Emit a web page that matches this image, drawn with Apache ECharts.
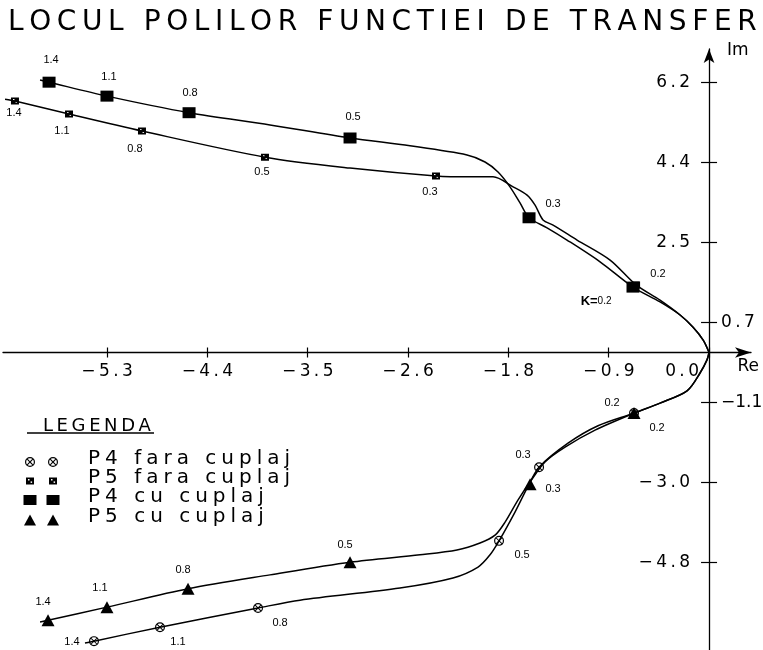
<!DOCTYPE html>
<html>
<head>
<meta charset="utf-8">
<title>Locul polilor functiei de transfer</title>
<script src="https://cdn.jsdelivr.net/npm/echarts@6/dist/echarts.min.js"></script>
<style>
html,body{margin:0;padding:0;background:#fff}
#chart{width:763px;height:650px}
</style>
</head>
<body>
<div id="chart"></div>
<script>
// valorile lui K scrise langa puncte
var kLabels = ['1.4', '1.1', '0.8', '0.5', '0.3', '0.2'];

// P4 cu cuplaj (patrate pline) - punctele marcate
var p4CuRe = [-5.789, -5.281, -4.561, -3.149, -1.579, -0.667];
var p4CuIm = [6.20, 5.88, 5.50, 4.92, 3.09, 1.50];
// traseul curbei
var p4CuPathRe = [-5.868, -5.789, -5.281, -4.561, -3.851, -3.149, -2.623, -2.123, -1.965, -1.851, -1.746, -1.658, -1.579, -1.421, -1.246, -0.956, -0.667, -0.430, -0.254, -0.140, -0.050, 0];
var p4CuPathIm = [6.25, 6.20, 5.88, 5.50, 5.22, 4.92, 4.74, 4.53, 4.37, 4.14, 3.80, 3.43, 3.09, 2.86, 2.58, 2.08, 1.50, 1.16, 0.86, 0.58, 0.28, 0];

// P5 fara cuplaj (patrate mici)
var p5FaraRe = [-6.088, -5.614, -4.974, -3.895, -2.395, -0.640];
var p5FaraIm = [5.77, 5.47, 5.08, 4.48, 4.05, 1.55];
var p5FaraPathRe = [-6.175, -6.088, -5.614, -4.974, -3.895, -3.149, -2.395, -2.096, -1.895, -1.719, -1.596, -1.526, -1.456, -1.368, -1.158, -0.868, -0.640, -0.430, -0.254, -0.140, -0.050, 0];
var p5FaraPathIm = [5.81, 5.77, 5.47, 5.08, 4.48, 4.23, 4.05, 4.03, 4.03, 3.80, 3.61, 3.38, 3.04, 2.92, 2.58, 2.12, 1.55, 1.20, 0.86, 0.58, 0.28, 0];

// P5 cu cuplaj (triunghiuri)
var p5CuRe = [-5.798, -5.281, -4.570, -3.149, -1.570, -0.658];
var p5CuIm = [-6.14, -5.84, -5.42, -4.81, -3.02, -1.39];
var p5CuPathRe = [-5.868, -5.798, -5.281, -4.570, -3.851, -3.149, -2.535, -2.211, -2.009, -1.877, -1.789, -1.675, -1.570, -1.439, -1.263, -1.000, -0.658, -0.430, -0.193, -0.079, -0.018, 0];
var p5CuPathIm = [-6.18, -6.14, -5.84, -5.42, -5.10, -4.81, -4.64, -4.53, -4.37, -4.19, -3.89, -3.38, -2.97, -2.51, -2.17, -1.78, -1.39, -1.16, -0.88, -0.47, -0.17, 0];

// P4 fara cuplaj (cerc cu x)
var p4FaraRe = [-5.395, -4.816, -3.956, -1.842, -1.491, -0.658];
var p4FaraIm = [-6.62, -6.30, -5.86, -4.32, -2.63, -1.39];
var p4FaraPathRe = [-5.474, -5.395, -4.816, -3.956, -3.588, -2.711, -2.246, -2.026, -1.921, -1.842, -1.702, -1.596, -1.491, -1.237, -0.974, -0.658, -0.430, -0.193, -0.079, -0.018, 0];
var p4FaraPathIm = [-6.66, -6.62, -6.30, -5.86, -5.68, -5.40, -5.17, -4.92, -4.64, -4.32, -3.66, -3.11, -2.63, -2.08, -1.68, -1.39, -1.16, -0.88, -0.47, -0.17, 0];

// gradatiile axelor
var xTicks = [-5.28, -4.4, -3.52, -2.64, -1.76, -0.88, 0];
var xTickLabels = ['\u22125.3', '\u22124.4', '\u22123.5', '\u22122.6', '\u22121.8', '\u22120.9', '0.0'];
var yTicks = [6.195, 4.36, 2.525, 0.69, -1.145, -2.98, -4.815];
var yTickLabels = ['6.2', '4.4', '2.5', '0.7', '\u22121.1', '\u22123.0', '\u22124.8'];

var legendNames = ['P4 fara cuplaj', 'P5 fara cuplaj', 'P4 cu cuplaj', 'P5 cu cuplaj'];

var FONT = "'DejaVu Sans', sans-serif";
var SMALL = "'Liberation Sans', Arial, sans-serif";

// simbolurile
var D_CIRCLEX = 'M0,-5A5,5 0 1,1 0,5A5,5 0 1,1 0,-5Z M0,-3.8A3.8,3.8 0 1,0 0,3.8A3.8,3.8 0 1,0 0,-3.8Z M-3.2,-2.5L-2.5,-3.2L3.2,2.5L2.5,3.2Z M2.5,-3.2L3.2,-2.5L-2.5,3.2L-3.2,2.5Z';
var D_DOTSQ = 'M0,0H8V7H0Z M2,1.6V3.1H3.5V1.6Z M4.6,3.9V5.4H6.1V3.9Z';
var D_SQ = 'M0,0H13V11H0Z';
var D_TRI = 'M6.5,0L13,12L0,12Z';

function spaced(s, sep) {
  return s.split('').join(sep || '\u2009');
}
function zip(a, b) {
  return a.map(function (v, i) { return [v, b[i]]; });
}
function lookup(values, labels) {
  return function (v) {
    var best = 0;
    for (var i = 1; i < values.length; i++) {
      if (Math.abs(values[i] - v) < Math.abs(values[best] - v)) best = i;
    }
    return labels[best];
  };
}
var xLab = lookup(xTicks, xTickLabels);
var yLab = lookup(yTicks, yTickLabels);

function curve(name, re, im) {
  return {
    type: 'line', name: name, data: zip(re, im),
    smooth: 0.3, showSymbol: false, silent: true, z: 2,
    lineStyle: { color: '#000', width: 1.5 }
  };
}

function markers(name, re, im, symbol, size, offsets, fmt) {
  return {
    type: 'scatter', name: name, z: 4, silent: true,
    symbol: 'path://' + symbol, symbolSize: size,
    itemStyle: { color: '#000', opacity: 1 },
    data: zip(re, im).map(function (p, i) {
      return { value: p, label: { offset: offsets[i] } };
    }),
    label: {
      show: true, position: 'inside', color: '#000',
      fontFamily: SMALL, fontSize: 11,
      formatter: fmt || function (p) { return kLabels[p.dataIndex]; },
      rich: {
        k: { fontFamily: SMALL, fontSize: 13, fontWeight: 'bold', color: '#000' },
        v: { fontFamily: SMALL, fontSize: 10, color: '#000' }
      }
    }
  };
}

// cadrul graficului (pixeli) si domeniile axelor
var G = { left: 3, right: 12, top: 49, bottom: 0, w: 763, h: 650 };
var xMin = -6.193, xMax = 0.368, yMin = -6.823, yMax = 6.961;
var gw = G.w - G.left - G.right, gh = G.h - G.top - G.bottom;
// axele trec prin zero: deplasarea lor fata de marginile cadrului
var zeroX = G.left + (0 - xMin) / (xMax - xMin) * gw;
var zeroY = G.top + (yMax - 0) / (yMax - yMin) * gh;
var offBottom = -(G.h - G.bottom - zeroY);
var offTop = -(zeroY - G.top);
var offLeft = -(zeroX - G.left);
var offRight = -(G.w - G.right - zeroX);

var tickStyle = { color: '#000', width: 1.2 };

var yLeft = [yTicks[0], yTicks[1], yTicks[2], yTicks[5], yTicks[6]];
var yRight = [yTicks[3], yTicks[4]];

// simbolurile din legenda, desenate cu elemente graphic
function legendIcon(i, cx, cy) {
  if (i === 0) {
    return [
      { type: 'ring', shape: { cx: cx, cy: cy, r: 5, r0: 3.8 }, style: { fill: '#000' } },
      { type: 'line', shape: { x1: cx - 2.8, y1: cy - 2.8, x2: cx + 2.8, y2: cy + 2.8 }, style: { stroke: '#000', lineWidth: 1.1 } },
      { type: 'line', shape: { x1: cx + 2.8, y1: cy - 2.8, x2: cx - 2.8, y2: cy + 2.8 }, style: { stroke: '#000', lineWidth: 1.1 } }
    ];
  }
  if (i === 1) {
    return [
      { type: 'rect', shape: { x: cx - 4, y: cy - 3.5, width: 8, height: 7 }, style: { fill: '#000' } },
      { type: 'rect', shape: { x: cx - 2, y: cy - 1.9, width: 1.5, height: 1.5 }, style: { fill: '#fff' } },
      { type: 'rect', shape: { x: cx + 0.6, y: cy + 0.4, width: 1.5, height: 1.5 }, style: { fill: '#fff' } }
    ];
  }
  if (i === 2) {
    return [{ type: 'rect', shape: { x: cx - 6.5, y: cy - 5, width: 13, height: 10 }, style: { fill: '#000' } }];
  }
  return [{ type: 'polygon', shape: { points: [[cx, cy - 5.5], [cx + 6, cy + 5.5], [cx - 6, cy + 5.5]] }, style: { fill: '#000' } }];
}

var legendRowY = [462, 481, 500, 520];
var graphics = [
  { type: 'text', x: 43, y: 417, style: { text: spaced('LEGENDA'), font: '18px ' + FONT, fill: '#000' } },
  { type: 'line', shape: { x1: 27, y1: 433, x2: 154, y2: 433 }, style: { stroke: '#000', lineWidth: 1.3 } }
];
legendNames.forEach(function (n, i) {
  graphics = graphics.concat(legendIcon(i, 30, legendRowY[i]), legendIcon(i, 53, legendRowY[i]));
  graphics.push({
    type: 'text', x: 88, y: legendRowY[i] - 13,
    style: { text: spaced(n, '\u2005'), font: '20px ' + FONT, fill: '#000' }
  });
});

var chart = echarts.init(document.getElementById('chart'), null, { renderer: 'canvas' });
chart.setOption({
  animation: false,
  backgroundColor: '#fff',
  title: {
    text: spaced('LOCUL POLILOR FUNCTIEI DE TRANSFER'),
    left: 3, top: 4,
    textStyle: { fontFamily: FONT, fontSize: 28, fontWeight: 'normal', color: '#000' }
  },
  grid: { left: G.left, right: G.right, top: G.top, bottom: G.bottom, containLabel: false, outerBoundsMode: 'none' },
  xAxis: [{
    type: 'value', min: xMin, max: xMax, position: 'bottom', offset: offBottom,
    name: 'Re', nameLocation: 'end', nameGap: 8,
    nameTextStyle: { fontFamily: FONT, fontSize: 17, color: '#000', align: 'right', verticalAlign: 'top', padding: [6, 0, 0, 0] },
    axisLine: { onZero: false, symbol: ['none', 'arrow'], symbolSize: [8, 16], lineStyle: { color: '#000', width: 1.3 } },
    axisTick: { show: true, customValues: xTicks, length: 5, lineStyle: tickStyle },
    axisLabel: {
      show: true, customValues: xTicks, margin: 11,
      fontFamily: FONT, fontSize: 17, color: '#000',
      formatter: function (v) {
        var t = spaced(xLab(v));
        return Math.abs(v) < 1e-6 ? '{z|' + t + '}' : t;
      },
      rich: { z: { fontFamily: FONT, fontSize: 17, color: '#000', padding: [0, 54, 0, 0] } }
    },
    splitLine: { show: false }
  }, {
    type: 'value', min: xMin, max: xMax, position: 'top', offset: offTop,
    axisLine: { show: false, onZero: false },
    axisTick: { show: true, customValues: xTicks, length: 5, lineStyle: tickStyle },
    axisLabel: { show: false },
    splitLine: { show: false }
  }],
  yAxis: [{
    type: 'value', min: yMin, max: yMax, position: 'left', offset: offLeft,
    name: 'Im', nameLocation: 'end', nameGap: 7,
    nameTextStyle: { fontFamily: FONT, fontSize: 17, color: '#000', align: 'left', verticalAlign: 'top', padding: [0, 0, 0, 18] },
    axisLine: { onZero: false, symbol: ['none', 'arrow'], symbolSize: [8, 14], lineStyle: { color: '#000', width: 1.3 } },
    axisTick: { show: true, customValues: yTicks, length: 8, lineStyle: tickStyle },
    axisLabel: {
      show: true, customValues: yLeft, margin: 19,
      fontFamily: FONT, fontSize: 17, color: '#000',
      formatter: function (v) { return spaced(yLab(v)); }
    },
    splitLine: { show: false }
  }, {
    type: 'value', min: yMin, max: yMax, position: 'right', offset: offRight,
    axisLine: { show: false, onZero: false },
    axisTick: { show: true, customValues: yTicks, length: 8, lineStyle: tickStyle },
    axisLabel: {
      show: true, customValues: yRight, margin: 12,
      fontFamily: FONT, fontSize: 17, color: '#000',
      // eticheta negativa fara spatiere, ca sa incapa in cadru
      formatter: function (v) { return v < 0 ? yLab(v) : spaced(yLab(v)); }
    },
    splitLine: { show: false }
  }],
  graphic: graphics,
  series: [
    curve('P4 cu cuplaj', p4CuPathRe, p4CuPathIm),
    curve('P5 fara cuplaj', p5FaraPathRe, p5FaraPathIm),
    curve('P5 cu cuplaj', p5CuPathRe, p5CuPathIm),
    curve('P4 fara cuplaj', p4FaraPathRe, p4FaraPathIm),
    markers('P5 fara cuplaj', p5FaraRe, p5FaraIm, D_DOTSQ, [8, 7],
      [[-1, 12], [-7, 17], [-7, 18], [-3, 15], [-6, 16], [-40, 16]],
      function (p) { return p.dataIndex === 5 ? '{k|K=}{v|0.2}' : kLabels[p.dataIndex]; }),
    markers('P4 cu cuplaj', p4CuRe, p4CuIm, D_SQ, [13, 11],
      [[2, -22], [2, -19], [1, -20], [3, -21], [24, -14], [25, -13]]),
    markers('P4 fara cuplaj', p4FaraRe, p4FaraIm, D_CIRCLEX, [10, 10],
      [[-22, 1], [18, 15], [22, 15], [23, 14], [-16, -12], [-22, -10]]),
    markers('P5 cu cuplaj', p5CuRe, p5CuIm, D_TRI, [13, 12],
      [[-5, -18], [-7, -19], [-5, -19], [-5, -17], [23, 5], [23, 15]])
  ]
});
</script>
</body>
</html>
